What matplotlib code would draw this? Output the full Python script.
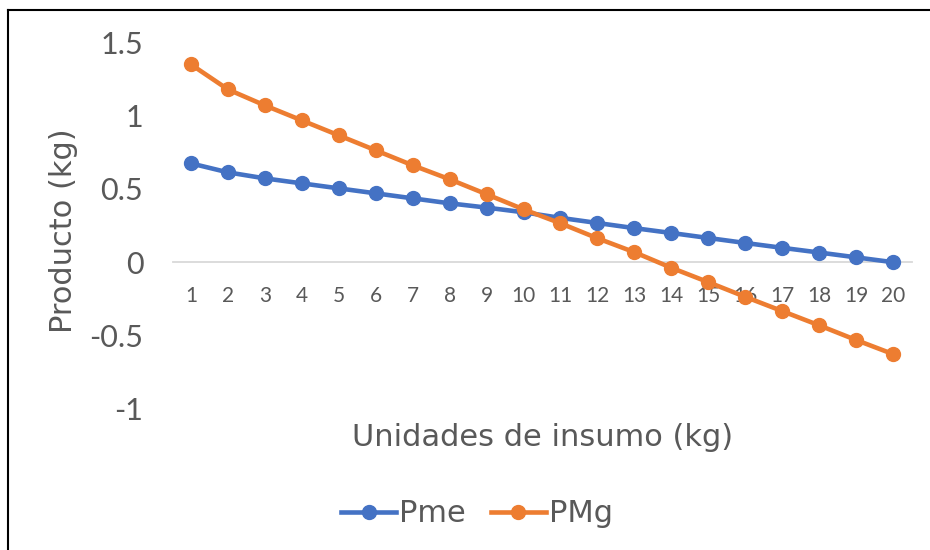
import matplotlib
matplotlib.use("Agg")
import matplotlib.pyplot as plt
from matplotlib.lines import Line2D

# Unidades de insumo y productos medio / marginal
unidades = list(range(1, 21))
pme = [0.673, 0.612, 0.571, 0.537, 0.503, 0.469, 0.435, 0.401, 0.372, 0.340,
       0.302, 0.267, 0.232, 0.199, 0.165, 0.131, 0.098, 0.066, 0.033, 0.0]
pmg = [1.347, 1.177, 1.068, 0.966, 0.864, 0.762, 0.660, 0.565, 0.463, 0.360,
       0.265, 0.163, 0.068, -0.038, -0.136, -0.236, -0.333, -0.430, -0.530, -0.626]
y_ticks = [-1, -0.5, 0, 0.5, 1, 1.5]
y_labels = ["-1", "-0.5", "0", "0.5", "1", "1.5"]

plt.rcParams["font.family"] = ["Lato", "DejaVu Sans"]
gray = "#595959"
title_font = ["DejaVu Sans"]

fig = plt.figure(figsize=(9.3, 5.5), dpi=100)
ax = fig.add_axes([172.5 / 930, 1 - 409 / 550, 739 / 930, 367 / 550])

ax.plot(unidades, pme, color="#4472C4", lw=3.3, marker="o", ms=10, label="Pme")
ax.plot(unidades, pmg, color="#ED7D31", lw=3.3, marker="o", ms=10, label="PMg")

ax.set_xlim(0.5, 20.5)
ax.set_ylim(-1, 1.5)
ax.set_xticks(unidades)
ax.set_yticks(y_ticks)
ax.set_yticklabels(y_labels)

for s in ["top", "right", "left"]:
    ax.spines[s].set_visible(False)
ax.spines["bottom"].set_position(("data", 0))
ax.spines["bottom"].set_color("#d9d9d9")
ax.spines["bottom"].set_linewidth(1.3)
ax.spines["bottom"].set_zorder(0)

ax.tick_params(axis="x", length=0, pad=17, labelsize=15, labelcolor=gray)
ax.tick_params(axis="y", length=0, pad=21, labelsize=22, labelcolor=gray)

fig.text(64 / 930, 1 - 231 / 550, "Producto (kg)", rotation=90, ha="center",
         va="center", fontsize=22, color=gray, family=title_font)
fig.text(543 / 930, 1 - 437 / 550, "Unidades de insumo (kg)", ha="center",
         va="center", fontsize=22, color=gray, family=title_font)

leg = fig.legend(loc="center", bbox_to_anchor=(477 / 930, 1 - 514 / 550), ncol=2,
                 frameon=False, handlelength=1.8, handletextpad=0.1,
                 columnspacing=0.8, prop={"family": title_font, "size": 22})
for t in leg.get_texts():
    t.set_color(gray)

# borde del area del grafico (solo izquierda y arriba visibles)
fig.add_artist(Line2D([8 / 930, 8 / 930], [0, 1 - 10 / 550], color="black", lw=1.5))
fig.add_artist(Line2D([8 / 930, 1], [1 - 10 / 550, 1 - 10 / 550], color="black", lw=1.5))

fig.savefig("out.png", dpi=100)
